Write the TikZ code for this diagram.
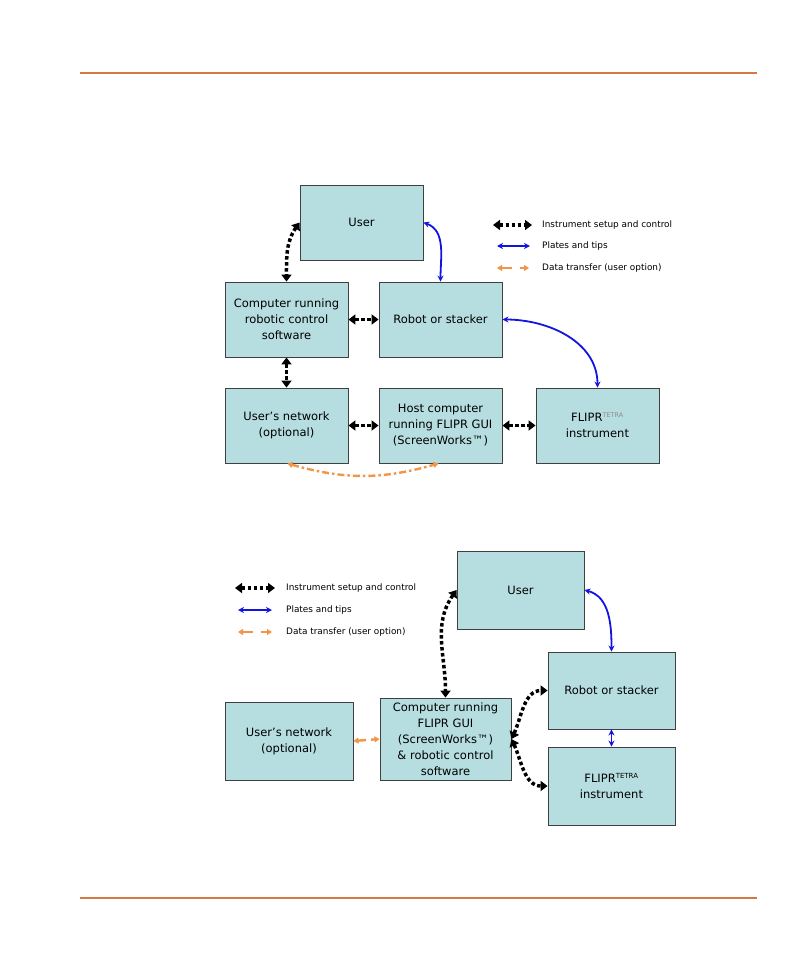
\documentclass[tikz,border=0pt]{standalone}
\usepackage{fontspec}
\setmainfont{DejaVu Sans}
\usepackage{xcolor}
\definecolor{boxfill}{RGB}{182,222,224}
\definecolor{rulecol}{RGB}{212,122,62}
\definecolor{datacol}{RGB}{240,150,70}
\definecolor{platecol}{RGB}{20,20,225}
\usetikzlibrary{arrows.meta,positioning}
\tikzset{
  box/.style={draw=black!75,fill=boxfill,line width=0.9pt,%
    font=\fontsize{11.5}{16}\selectfont,align=center,inner sep=0pt,%
    minimum width=123pt,minimum height=75pt},
  ctrl/.style={{Triangle[length=7pt,width=10pt]}-{Triangle[length=7pt,width=10pt]},%
    line width=3.5pt,dash pattern=on 3.5pt off 2.5pt},
  plates/.style={{Stealth[length=6pt,width=6pt]}-{Stealth[length=6pt,width=6pt]},%
    line width=1.8pt,draw=platecol},
  data/.style={{Triangle[length=5pt,width=6pt]}-{Triangle[length=5pt,width=6pt]},%
    line width=2.4pt,draw=datacol},
  legtext/.style={anchor=west,font=\fontsize{8.9}{10}\selectfont,inner sep=0pt},
  rulebar/.style={draw=rulecol,line width=2pt},
}
\begin{document}
\begin{tikzpicture}[x=1pt,y=1pt]
\useasboundingbox (0,0) rectangle (810,-972);
\coordinate (r1a) at (80,-72.5);
\coordinate (r1b) at (757,-72.5);
\coordinate (r2a) at (80,-898);
\coordinate (r2b) at (757,-898);
\draw[rulebar] (r1a) -- (r1b);
\draw[rulebar] (r2a) -- (r2b);

\node[box] (user)  at (361.5,-222.5) {User};
\node[box] (comp)  at (286.5,-319.5) {Computer running\\robotic control\\software};
\node[box] (robot) at (440.5,-319.5) {Robot or stacker};
\node[box] (net)   at (286.5,-425.5) {User's network\\(optional)};
\node[box] (host)  at (440.5,-425.5) {Host computer\\running FLIPR GUI\\(ScreenWorks™)};
\node[box] (flipr) at (597.5,-425.5) {FLIPR\textsuperscript{\color{black!45}\fontsize{6.5}{7}\selectfont TETRA}\\instrument};
\draw[ctrl] (user.west) to[out=235,in=90] (comp.north);
\draw[plates] (user.east) to[out=-20,in=90] (robot.north);
\draw[ctrl] (comp.east) -- (robot.west);
\draw[ctrl] (comp.south) -- (net.north);
\draw[ctrl] (net.east) -- (host.west);
\draw[ctrl] (host.east) -- (flipr.west);
\draw[plates] (robot.east) to[out=0,in=90] (flipr.north);
\draw[data,dash pattern=on 7pt off 3pt on 2.5pt off 3pt] ([xshift=1pt]net.south) to[bend right=16] ([xshift=-2pt]host.south);

\coordinate (la1) at (493,-225);
\coordinate (lb1) at (532,-225);
\coordinate (la2) at (497,-246);
\coordinate (lb2) at (530,-246);
\coordinate (la3) at (497,-268);
\coordinate (lb3) at (529,-268);
\draw[ctrl] (la1) -- (lb1);
\draw[plates] (la2) -- (lb2);
\draw[data,dash pattern=on 10pt off 8pt] (la3) -- (lb3);
\node[legtext] (lt1) at (542,-225) {Instrument setup and control};
\node[legtext] (lt2) at (542,-246) {Plates and tips};
\node[legtext] (lt3) at (542,-268) {Data transfer (user option)};

\node[box,minimum width=127pt,minimum height=78pt] (user2)  at (520.5,-590) {User};
\node[box,minimum width=127pt,minimum height=77pt] (robot2) at (611.5,-690.5) {Robot or stacker};
\node[box,minimum width=127pt,minimum height=78pt] (flipr2) at (611.5,-786) {FLIPR\textsuperscript{\fontsize{7}{8}\selectfont TETRA}\\instrument};
\node[box,minimum width=131pt,minimum height=82pt] (comp2)  at (445.5,-739) {Computer running\\FLIPR GUI\\(ScreenWorks™)\\\& robotic control\\software};
\node[box,minimum width=128pt,minimum height=78pt] (net2)   at (289,-741) {User's network\\(optional)};
\draw[ctrl] (user2.west) to[out=235,in=90] (comp2.north);
\draw[plates] (user2.east) to[out=-15,in=90] (robot2.north);
\draw[plates] (robot2.south) -- (flipr2.north);
\draw[ctrl] (comp2.east) to[out=65,in=180] (robot2.west);
\draw[ctrl] (comp2.east) to[out=-65,in=180] (flipr2.west);
\draw[data,dash pattern=on 8pt off 5pt] (net2.east) -- (comp2.west);

\coordinate (lc1) at (235,-588);
\coordinate (ld1) at (275,-588);
\coordinate (lc2) at (238,-610);
\coordinate (ld2) at (272,-610);
\coordinate (lc3) at (238,-632);
\coordinate (ld3) at (272,-632);
\draw[ctrl] (lc1) -- (ld1);
\draw[plates] (lc2) -- (ld2);
\draw[data,dash pattern=on 10pt off 8pt] (lc3) -- (ld3);
\node[legtext] (lu1) at (286,-588) {Instrument setup and control};
\node[legtext] (lu2) at (286,-610) {Plates and tips};
\node[legtext] (lu3) at (286,-632) {Data transfer (user option)};
\end{tikzpicture}
\end{document}
